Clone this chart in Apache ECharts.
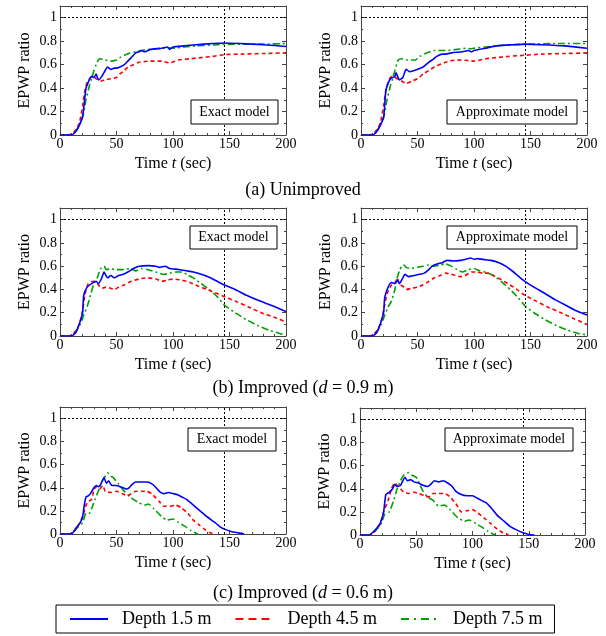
<!DOCTYPE html>
<html>
<head>
<meta charset="utf-8">
<script src="https://cdn.jsdelivr.net/npm/echarts@6.0.0/dist/echarts.min.js"></script>
<style>
    html, body { margin: 0; padding: 0; background: #fff; }
    #chart { width: 606px; height: 636px; }
</style>
</head>
<body>
<div id="chart"></div>
<script>
// time (sec), EPWP ratio
const aExact15 = [[0,0],[10,0],[14,0.03],[17,0.08],[20,0.16],[22,0.32],[23,0.4],[25,0.45],[26.5,0.48],[28,0.5],[30,0.49],[32,0.52],[34,0.47],[37,0.5],[40,0.55],[42,0.58],[45,0.56],[48,0.57],[50,0.57],[53,0.58],[57,0.6],[60,0.63],[63,0.66],[67,0.7],[70,0.71],[72,0.72],[75,0.71],[80,0.73],[90,0.74],[95,0.75],[97,0.73],[100,0.75],[110,0.76],[120,0.77],[135,0.78],[145,0.785],[160,0.78],[180,0.77],[200,0.755]];
const aExact45 = [[0,0],[7,0],[12,0.02],[17,0.1],[20,0.25],[22,0.38],[24,0.45],[27,0.49],[29,0.5],[32,0.48],[36,0.46],[40,0.47],[45,0.48],[50,0.49],[53,0.52],[57,0.55],[60,0.58],[65,0.6],[70,0.62],[80,0.63],[90,0.63],[97,0.615],[105,0.64],[115,0.65],[125,0.66],[135,0.67],[145,0.685],[160,0.69],[180,0.695],[200,0.7]];
const aExact75 = [[0,0],[10,0],[15,0.05],[20,0.15],[23,0.3],[26,0.42],[28,0.48],[30,0.55],[32,0.6],[35,0.65],[40,0.64],[45,0.63],[50,0.64],[53,0.66],[57,0.68],[62,0.7],[67,0.71],[72,0.72],[80,0.73],[90,0.74],[95,0.745],[100,0.74],[110,0.75],[120,0.76],[140,0.77],[160,0.775],[180,0.775],[200,0.78]];

const aApprox15 = [[0,0],[10,0],[14,0.03],[17,0.08],[20,0.15],[22,0.38],[24,0.44],[26,0.48],[28,0.49],[30,0.5],[31,0.53],[34,0.47],[37,0.49],[40,0.56],[43,0.54],[47,0.55],[50,0.56],[55,0.58],[60,0.62],[63,0.64],[67,0.67],[72,0.69],[75,0.69],[80,0.7],[90,0.71],[95,0.72],[98,0.71],[100,0.72],[110,0.74],[120,0.76],[135,0.77],[145,0.775],[160,0.77],[180,0.76],[200,0.74]];
const aApprox45 = [[0,0],[7,0],[12,0.02],[17,0.1],[20,0.25],[22,0.38],[24,0.45],[26,0.49],[28,0.5],[32,0.48],[36,0.46],[40,0.44],[45,0.46],[50,0.48],[55,0.52],[60,0.55],[65,0.58],[75,0.62],[85,0.64],[95,0.635],[100,0.63],[110,0.65],[120,0.66],[130,0.67],[145,0.68],[160,0.69],[180,0.695],[200,0.7]];
const aApprox75 = [[0,0],[10,0],[15,0.05],[20,0.15],[23,0.3],[26,0.42],[28,0.48],[30,0.55],[33,0.64],[36,0.65],[40,0.64],[48,0.64],[52,0.67],[58,0.7],[65,0.72],[75,0.72],[85,0.73],[93,0.74],[97,0.735],[100,0.74],[110,0.75],[120,0.76],[135,0.77],[150,0.775],[170,0.78],[200,0.78]];

const bExact15 = [[0,0],[10,0],[14,0.03],[17,0.1],[20,0.2],[21,0.35],[24,0.42],[28,0.45],[32,0.47],[34,0.45],[37,0.5],[39,0.55],[42,0.5],[45,0.52],[48,0.5],[52,0.52],[56,0.53],[60,0.55],[65,0.58],[70,0.6],[78,0.605],[85,0.6],[88,0.59],[93,0.6],[97,0.58],[102,0.575],[106,0.57],[112,0.56],[118,0.55],[125,0.53],[133,0.5],[141,0.46],[145,0.44],[155,0.4],[165,0.35],[177,0.3],[188,0.26],[200,0.21]];
const bExact45 = [[0,0],[7,0],[12,0.02],[17,0.1],[20,0.22],[22,0.35],[25,0.45],[30,0.47],[33,0.45],[37,0.41],[41,0.42],[45,0.41],[48,0.4],[52,0.42],[57,0.44],[63,0.47],[70,0.49],[77,0.5],[85,0.49],[90,0.47],[95,0.48],[100,0.49],[108,0.48],[115,0.46],[122,0.43],[130,0.4],[140,0.36],[145,0.34],[155,0.3],[167,0.25],[178,0.2],[190,0.16],[200,0.12]];
const bExact75 = [[0,0],[10,0],[14,0.04],[18,0.1],[21,0.18],[24,0.25],[27,0.35],[30,0.45],[33,0.5],[36,0.58],[39,0.6],[41,0.57],[45,0.58],[48,0.57],[55,0.57],[62,0.58],[67,0.56],[72,0.58],[78,0.57],[85,0.55],[92,0.53],[97,0.54],[103,0.55],[108,0.55],[112,0.53],[118,0.5],[125,0.45],[132,0.4],[140,0.33],[145,0.27],[155,0.2],[165,0.14],[175,0.09],[185,0.05],[195,0.02],[200,0.01]];

const bApprox15 = [[0,0],[10,0],[14,0.03],[17,0.1],[20,0.2],[21,0.33],[24,0.42],[27,0.46],[30,0.45],[32,0.48],[34,0.45],[37,0.5],[39,0.53],[42,0.51],[47,0.52],[52,0.53],[56,0.54],[60,0.57],[63,0.6],[68,0.62],[72,0.63],[76,0.65],[82,0.645],[88,0.65],[93,0.66],[97,0.67],[100,0.66],[103,0.665],[110,0.655],[115,0.65],[122,0.63],[128,0.6],[135,0.55],[141,0.5],[145,0.47],[153,0.42],[162,0.37],[172,0.31],[182,0.26],[192,0.21],[200,0.18]];
const bApprox45 = [[0,0],[7,0],[12,0.02],[17,0.1],[20,0.22],[23,0.36],[27,0.44],[31,0.47],[32,0.5],[34,0.45],[38,0.42],[40,0.4],[45,0.41],[50,0.42],[55,0.44],[60,0.47],[65,0.5],[70,0.52],[75,0.54],[80,0.53],[88,0.51],[92,0.52],[98,0.55],[102,0.55],[108,0.54],[112,0.54],[117,0.52],[123,0.49],[130,0.45],[138,0.4],[145,0.35],[155,0.3],[165,0.25],[177,0.2],[188,0.15],[200,0.1]];
const bApprox75 = [[0,0],[10,0],[14,0.04],[18,0.1],[21,0.18],[24,0.25],[27,0.3],[30,0.4],[32,0.5],[34,0.56],[36,0.6],[38,0.61],[40,0.59],[44,0.58],[50,0.59],[55,0.6],[60,0.61],[65,0.6],[70,0.61],[75,0.62],[80,0.6],[85,0.57],[90,0.55],[95,0.57],[100,0.58],[105,0.56],[110,0.55],[117,0.52],[124,0.47],[132,0.4],[139,0.33],[145,0.26],[153,0.2],[163,0.14],[173,0.09],[183,0.05],[193,0.02],[200,0.01]];

const cExact15 = [[0,0],[10,0],[14,0.05],[18,0.1],[20,0.15],[21.5,0.25],[23,0.32],[25,0.33],[27,0.35],[30,0.4],[32,0.42],[34,0.41],[36,0.43],[39,0.49],[41,0.44],[43,0.46],[46,0.42],[50,0.42],[53,0.41],[56,0.4],[59,0.39],[61,0.4],[64,0.43],[67,0.45],[72,0.45],[77,0.45],[82,0.43],[86,0.39],[89,0.36],[92,0.35],[96,0.36],[100,0.35],[104,0.34],[108,0.32],[112,0.3],[118,0.25],[124,0.2],[130,0.15],[137,0.1],[142,0.06],[146,0.04],[152,0.02],[158,0.01],[163,0]];
const cExact45 = [[0,0],[8,0],[15,0.05],[20,0.15],[23,0.25],[25,0.28],[28,0.3],[30,0.38],[32,0.41],[35,0.39],[38,0.42],[40,0.37],[45,0.36],[50,0.37],[55,0.35],[60,0.33],[63,0.35],[67,0.37],[72,0.37],[77,0.37],[82,0.34],[88,0.28],[92,0.24],[97,0.24],[102,0.25],[107,0.23],[113,0.18],[118,0.12],[123,0.08],[128,0.04],[133,0.01],[137,0]];
const cExact75 = [[0,0],[10,0],[15,0.05],[20,0.1],[23,0.18],[26,0.18],[28,0.22],[31,0.3],[33,0.35],[35,0.4],[37,0.45],[40,0.5],[42,0.53],[45,0.5],[47,0.49],[52,0.43],[56,0.38],[60,0.34],[65,0.3],[70,0.27],[75,0.25],[78,0.26],[83,0.22],[90,0.15],[95,0.12],[100,0.13],[105,0.1],[110,0.07],[116,0.03],[122,0]];

const cApprox15 = [[0,0],[8,0],[14,0.05],[18,0.1],[21,0.2],[23,0.35],[26,0.37],[29,0.4],[31,0.44],[33,0.42],[36,0.43],[40,0.5],[42,0.47],[45,0.48],[48,0.46],[52,0.45],[56,0.43],[60,0.42],[63,0.44],[66,0.47],[70,0.46],[74,0.47],[78,0.45],[82,0.42],[85,0.38],[90,0.35],[95,0.34],[100,0.34],[104,0.32],[108,0.3],[112,0.28],[117,0.23],[122,0.17],[128,0.12],[134,0.07],[140,0.04],[145,0.02],[150,0.005],[155,0]];
const cApprox45 = [[0,0],[8,0],[14,0.04],[18,0.1],[21,0.2],[25,0.3],[28,0.4],[31,0.45],[33,0.43],[36,0.4],[39,0.37],[43,0.36],[48,0.37],[52,0.36],[57,0.34],[61,0.33],[65,0.36],[70,0.36],[75,0.36],[80,0.33],[86,0.26],[90,0.2],[95,0.21],[100,0.22],[105,0.19],[110,0.15],[116,0.1],[122,0.05],[127,0.02],[132,0]];
const cApprox75 = [[0,0],[9,0],[15,0.05],[19,0.1],[22,0.18],[26,0.2],[30,0.3],[33,0.4],[36,0.47],[39,0.52],[43,0.54],[46,0.52],[50,0.5],[53,0.44],[56,0.38],[60,0.33],[65,0.3],[70,0.25],[75,0.26],[80,0.22],[87,0.15],[93,0.12],[97,0.13],[103,0.1],[108,0.07],[114,0.03],[120,0]];

const depthNames = ['Depth 1.5 m', 'Depth 4.5 m', 'Depth 7.5 m'];
const xTicks = [0, 50, 100, 150, 200];
const yTicks = [0, 0.2, 0.4, 0.6, 0.8, 1];
const refTime = 145;
const refRatio = 1;
const captions = ['(a) Unimproved', '(b) Improved ({i|d} = 0.9 m)', '(c) Improved ({i|d} = 0.6 m)'];

const FONT = '"Liberation Serif", "Times New Roman", serif';
const colors = ['#0000ff', '#ff0000', '#00a000'];
const dashes = ['solid', [4, 3], [7, 3, 2, 3]];
const legendDashes = ['solid', [8, 5], [8, 5, 2, 5]];

let panels = [
    { lines: [aExact15, aExact45, aExact75], label: 'Exact model', grid: { left: 60, top: 6, width: 226, height: 129 }, box: [191, 100, 87, 24] },
    { lines: [aApprox15, aApprox45, aApprox75], label: 'Approximate model', grid: { left: 361, top: 6, width: 226, height: 129 }, box: [447, 100, 130, 24] },
    { lines: [bExact15, bExact45, bExact75], label: 'Exact model', grid: { left: 60, top: 208, width: 226, height: 128 }, box: [190, 226, 87, 23] },
    { lines: [bApprox15, bApprox45, bApprox75], label: 'Approximate model', grid: { left: 361, top: 208, width: 226, height: 128 }, box: [447, 226, 130, 23] },
    { lines: [cExact15, cExact45, cExact75], label: 'Exact model', grid: { left: 60, top: 407, width: 226, height: 127 }, box: [188, 428, 88, 23] },
    { lines: [cApprox15, cApprox45, cApprox75], label: 'Approximate model', grid: { left: 360, top: 408, width: 225, height: 127 }, box: [445, 428, 128, 23] }
];

let chart = echarts.init(document.getElementById('chart'));

let grids = [], xAxes = [], yAxes = [], series = [], graphics = [];

let tickStyle = { show: true, inside: true, length: 4, lineStyle: { color: '#444', width: 1 } };
let minorStyle = { show: true, length: 2, lineStyle: { color: '#444', width: 1 } };
let lineStyle = { show: true, onZero: false, lineStyle: { color: '#444', width: 1 } };

panels.forEach(function (p, i) {
    grids.push(Object.assign({ containLabel: false }, p.grid));

    xAxes.push({
        gridIndex: i, type: 'value', position: 'bottom',
        min: xTicks[0], max: xTicks[xTicks.length - 1], interval: xTicks[1] - xTicks[0],
        axisLine: lineStyle, axisTick: tickStyle, minorTick: Object.assign({ splitNumber: 5 }, minorStyle),
        splitLine: { show: false },
        axisLabel: { margin: 2, color: '#000', fontFamily: FONT, fontSize: 14 },
        name: 'Time {i|t} (sec)', nameLocation: 'middle', nameGap: 21,
        nameTextStyle: { color: '#000', fontFamily: FONT, fontSize: 16, rich: { i: { fontStyle: 'italic', fontFamily: FONT, fontSize: 16 } } }
    });
    xAxes.push({
        gridIndex: i, type: 'value', position: 'top',
        min: xTicks[0], max: xTicks[xTicks.length - 1], interval: xTicks[1] - xTicks[0],
        axisLine: lineStyle, axisTick: tickStyle, minorTick: Object.assign({ splitNumber: 5 }, minorStyle),
        splitLine: { show: false }, axisLabel: { show: false }
    });
    yAxes.push({
        gridIndex: i, type: 'value', position: 'left',
        min: 0, max: 1.1, interval: yTicks[1] - yTicks[0],
        axisLine: lineStyle, axisTick: tickStyle, minorTick: Object.assign({ splitNumber: 2 }, minorStyle),
        splitLine: { show: false },
        axisLabel: {
            margin: 3, color: '#000', fontFamily: FONT, fontSize: 14, showMaxLabel: false,
            formatter: function (v) { return String(parseFloat(v.toFixed(1))); }
        },
        name: 'EPWP ratio', nameLocation: 'middle', nameGap: 27,
        nameTextStyle: { color: '#000', fontFamily: FONT, fontSize: 16 }
    });
    yAxes.push({
        gridIndex: i, type: 'value', position: 'right',
        min: 0, max: 1.1, interval: yTicks[1] - yTicks[0],
        axisLine: lineStyle, axisTick: tickStyle, minorTick: Object.assign({ splitNumber: 2 }, minorStyle),
        splitLine: { show: false }, axisLabel: { show: false }
    });

    p.lines.forEach(function (data, k) {
        let s = {
            name: depthNames[k], type: 'line',
            xAxisIndex: 2 * i, yAxisIndex: 2 * i,
            data: data, symbol: 'none', smooth: 0.2,
            color: colors[k],
            lineStyle: { color: colors[k], width: 1.6, type: dashes[k] },
            z: 3 - k + 2
        };
        if (k === 0) {
            s.markLine = {
                silent: true, symbol: ['none', 'none'], label: { show: false },
                lineStyle: { color: '#000', width: 1, type: [2, 2] },
                data: [{ yAxis: refRatio }, { xAxis: refTime }]
            };
        }
        series.push(s);
    });

    let b = p.box;
    graphics.push({
        type: 'rect', z: 100,
        shape: { x: b[0], y: b[1], width: b[2], height: b[3] },
        style: { fill: '#fff', stroke: '#000', lineWidth: 1 }
    });
    graphics.push({
        type: 'text', z: 101,
        x: b[0] + b[2] / 2, y: b[1] + b[3] / 2,
        style: { text: p.label, font: '14px ' + FONT, fill: '#000', align: 'center', verticalAlign: 'middle' }
    });
});

let captionTops = [181, 379, 584];
let titles = captions.map(function (c, i) {
    return {
        text: c, left: 'center', top: captionTops[i], padding: 0,
        textStyle: {
            color: '#000', fontFamily: FONT, fontSize: 18, fontWeight: 'normal',
            rich: { i: { fontStyle: 'italic', fontFamily: FONT, fontSize: 18, color: '#000' } }
        }
    };
});

let option = {
    animation: false,
    backgroundColor: '#fff',
    title: titles,
    grid: grids,
    xAxis: xAxes,
    yAxis: yAxes,
    legend: {
        data: depthNames.map(function (n, k) {
            return { name: n, lineStyle: { color: colors[k], width: 2, type: legendDashes[k] } };
        }),
        left: 56, top: 605,
        orient: 'horizontal',
        borderColor: '#000', borderWidth: 1,
        padding: [5, 12, 5, 13],
        itemWidth: 38, itemHeight: 14, itemGap: 23,
        itemStyle: { opacity: 0 },
        textStyle: { color: '#000', fontFamily: FONT, fontSize: 18, padding: [0, 0, 0, 9] }
    },
    graphic: graphics,
    series: series
};

chart.setOption(option);
</script>
</body>
</html>
